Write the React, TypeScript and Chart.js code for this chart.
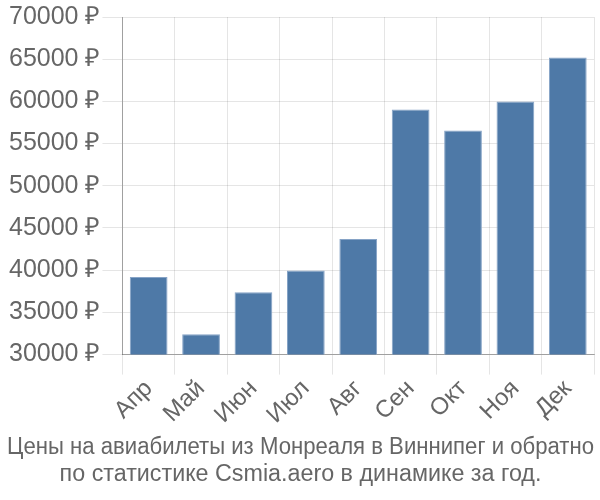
import React, { useEffect, useRef } from "react";
import { Chart, registerables } from "chart.js";

Chart.register(...registerables);

const categories = ["Апр", "Май", "Июн", "Июл", "Авг", "Сен", "Окт", "Ноя", "Дек"];
const prices = [39200, 32400, 37400, 39950, 43700, 59050, 56550, 60000, 65200];
const titleLines = [
  "Цены на авиабилеты из Монреаля в Виннипег и обратно",
  "по статистике Csmia.aero в динамике за год.",
];

export default function App() {
  const ref = useRef<HTMLCanvasElement | null>(null);
  useEffect(() => {
    document.body.style.margin = "0";
    const ctx = ref.current!;
    const chart = new Chart(ctx, {
      type: "bar",
      data: {
        labels: categories,
        datasets: [
          {
            data: prices,
            backgroundColor: "#4e79a7",
            borderColor: "#86a3c6",
            borderWidth: 1,
          },
        ],
      },
      options: {
        responsive: false,
        animation: false,
        layout: { padding: { left: 7, right: 6, top: 2, bottom: 0 } },
        plugins: {
          legend: { display: false },
          tooltip: { enabled: false },
          title: {
            display: true,
            position: "bottom",
            text: titleLines,
            color: "#666",
            font: { family: "Liberation Sans", size: 23.3, weight: "normal", lineHeight: 1.15 },
            padding: { top: 5, bottom: 12 },
          },
        },
        scales: {
          x: {
            grid: { color: "rgba(0,0,0,0.1)", lineWidth: 1, tickLength: 20, offset: true },
            border: { color: "rgba(0,0,0,0.3)" },
            ticks: {
              color: "#666",
              font: { family: "Liberation Sans", size: 24 },
              maxRotation: 45,
              minRotation: 45,
              padding: 0,
            },
          },
          y: {
            min: 30000,
            max: 70000,
            grid: { color: "rgba(0,0,0,0.1)", tickLength: 20 },
            border: { color: "rgba(0,0,0,0.3)" },
            ticks: {
              stepSize: 5000,
              color: "#666",
              font: { family: "Liberation Sans", size: 25 },
              padding: 2,
              callback: (v: any) => v + " ₽",
            },
          },
        },
      },
    });
    return () => chart.destroy();
  }, []);
  return (
    <div style={{ position: "fixed", left: 0, top: 0, width: 600, height: 500 }}>
      <canvas ref={ref} width={600} height={500} />
    </div>
  );
}
